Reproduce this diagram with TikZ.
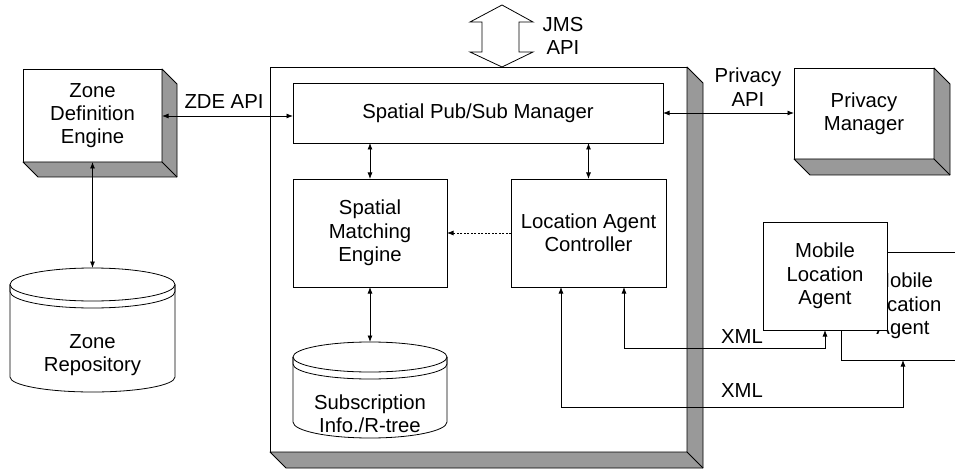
\documentclass[tikz,border=0pt]{standalone}
\usepackage{fontspec}
\setmainfont{Liberation Sans}
\usetikzlibrary{arrows.meta}
\definecolor{sidegray}{RGB}{153,153,153}
\tikzset{
  txt/.style={font=\fontsize{20.3}{23.3}\selectfont, align=center, inner sep=0pt},
  block/.style={draw, fill=white, line width=0.8pt, outer sep=0pt, anchor=north west,
    font=\fontsize{20.3}{23.3}\selectfont, align=center, inner sep=0pt},
  side/.style={draw, fill=sidegray, line width=0.8pt, line join=round},
  tip/.tip={Latex[length=6.5pt,width=5pt]},
  link/.style={line width=0.8pt, tip-tip},
  onelink/.style={line width=0.8pt, -tip},
  dashlink/.style={line width=0.8pt, dash pattern=on 2pt off 1.5pt, -tip},
}
% raised 3D box: front face node plus a grey extrusion towards the lower right
\newcommand{\raisedface}[2]{%
  \draw[side] (#1.north east) -- ++(#2,#2) -- ([shift={(#2,#2)}]#1.south east)
    -- ([shift={(#2,#2)}]#1.south west) -- (#1.south west) -- (#1.south east) -- cycle;
  \draw[line width=0.8pt] (#1.south east) -- ++(#2,#2);
}
% database drum: centre x, top y, half width, top-ellipse radius, body bottom y, bottom radius
\newcommand{\drum}[6]{%
  \draw[line width=0.8pt, fill=white] (#1-#3,#2+#4) -- (#1-#3,#5)
    arc[start angle=180, end angle=0, x radius=#3, y radius=#6]
    -- (#1+#3,#2+#4);
  \draw[line width=0.8pt, fill=white] (#1,#2+#4) ellipse[x radius=#3, y radius=#4];
  \draw[line width=0.8pt] (#1-#3,#2+#4) -- (#1-#3,#2+#4+7)
    arc[start angle=180, end angle=0, x radius=#3, y radius=#4] -- (#1+#3,#2+#4);
}
\begin{document}
\begin{tikzpicture}[x=1pt, y=-1pt]
\clip (0,0) rectangle (955,473);
\fill[white] (0,0) rectangle (955,473);

% main server box
\node[block, minimum width=417pt, minimum height=385pt] (server) at (270,67) {};
\raisedface{server}{16}

% Zone Definition Engine
\node[block, minimum width=139pt, minimum height=93pt] (zde) at (23,69)
  {Zone\\Definition\\Engine};
\raisedface{zde}{15}

% Privacy Manager
\node[block, minimum width=140pt, minimum height=91pt] (priv) at (794,68)
  {Privacy\\Manager};
\raisedface{priv}{16}

% inner components
\node[block, minimum width=370pt, minimum height=60pt] (pubsub) at (293,83)
  {Spatial Pub/Sub Manager};
\node[block, minimum width=154pt, minimum height=108pt] (sme) at (293,179)
  {Spatial\\Matching\\Engine};
\node[block, minimum width=155pt, minimum height=108pt] (lac) at (511,179)
  {Location Agent\\Controller};

% repositories
\drum{92.5}{268}{82.5}{16.5}{377}{15}
\coordinate (zrtop) at (92.5,268);
\node[txt] (zr) at (92.5,355) {Zone\\Repository};
\drum{370}{342}{77}{15}{422}{16}
\coordinate (sitop) at (370,342);
\node[txt] (si) at (370,414) {Subscription\\Info./R-tree};

% mobile location agents
\node[block, minimum width=124pt, minimum height=108pt] (mlab) at (841,252)
  {Mobile\\Location\\Agent};
\node[block, minimum width=124pt, minimum height=108pt] (mlaf) at (763,222)
  {Mobile\\Location\\Agent};

% JMS API double block arrow
\draw[line width=0.8pt, fill=white, line join=miter]
  (502,5) -- (533,22) -- (519,22) -- (519,52) -- (533,52) -- (502,67)
  -- (470,52) -- (482,52) -- (482,22) -- (470,22) -- cycle;
\coordinate (jms) at (502,67);
\node[txt] (jmslbl) at (563,36) {JMS\\API};

% connectors
\draw[link] (zde.east |- 0,116) -- (pubsub.west |- 0,116);
\node[txt] (zdelbl) at (224,102) {ZDE API};
\draw[link] (pubsub.east) -- (priv.west |- pubsub.east);
\node[txt] (privlbl) at (748,87) {Privacy\\API};
\draw[link] (sme.north) -- (sme.north |- pubsub.south);
\draw[link] (lac.north) -- (lac.north |- pubsub.south);
\draw[dashlink] (lac.west) -- (sme.east);
\draw[link] (sme.south) -- (sitop);
\draw[link] (zde.south) -- (zrtop);
\draw[link] ([xshift=-42pt]lac.south east) -- ++(0,61) -| (mlaf.south);
\node[txt] (xml1) at (742,337) {XML};
\draw[link] ([xshift=50pt]lac.south west) -- ++(0,120) -| (mlab.south);
\node[txt] (xml2) at (742,391) {XML};
\end{tikzpicture}
\end{document}
